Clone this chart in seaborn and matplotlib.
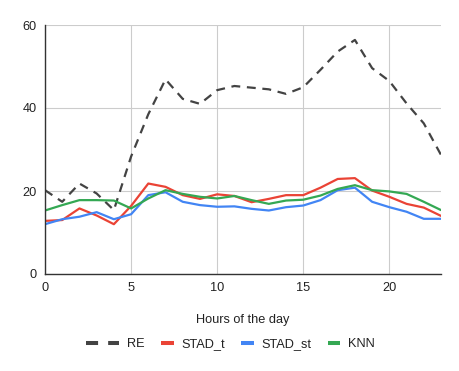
import pandas as pd
import matplotlib
matplotlib.use("Agg")
import matplotlib.pyplot as plt
from matplotlib.legend_handler import HandlerLine2D
import seaborn as sns

hours = list(range(24))
re_vals = [20.2, 17.4, 21.8, 19.4, 15.4, 28.3, 38.5, 46.9, 42.2, 41.0, 44.3, 45.3,
           44.9, 44.5, 43.4, 45.0, 49.2, 53.6, 56.4, 49.6, 46.5, 41.1, 36.3, 28.7]
stad_t = [12.8, 13.0, 15.8, 14.1, 12.0, 16.4, 21.8, 21.0, 19.0, 18.1, 19.2, 18.8,
          17.3, 18.1, 19.0, 19.0, 20.8, 22.9, 23.1, 20.1, 18.6, 16.9, 16.0, 14.0]
stad_st = [12.0, 13.2, 13.8, 14.9, 13.2, 14.4, 19.0, 19.7, 17.4, 16.6, 16.2, 16.3,
           15.7, 15.3, 16.1, 16.5, 17.8, 20.2, 20.8, 17.4, 16.1, 15.0, 13.3, 13.3]
knn = [15.3, 16.6, 17.8, 17.8, 17.7, 15.8, 18.2, 20.2, 19.3, 18.6, 18.2, 18.8,
       17.8, 16.9, 17.7, 17.9, 18.9, 20.5, 21.4, 20.2, 19.9, 19.3, 17.4, 15.4]

series = {"RE": re_vals, "STAD_t": stad_t, "STAD_st": stad_st, "KNN": knn}
colors = {"RE": "#434343", "STAD_t": "#ea4335", "STAD_st": "#4285f4", "KNN": "#34a853"}

df = pd.concat(
    [pd.DataFrame({"hour": hours, "value": v, "model": k}) for k, v in series.items()],
    ignore_index=True,
)


class WideHandler(HandlerLine2D):
    # dashed entry gets a wider handle box, like the google chart legend
    def legend_artist(self, legend, orig_handle, fontsize, handlebox):
        handlebox.width = 2.65 * fontsize
        return super().legend_artist(legend, orig_handle, fontsize, handlebox)


sns.set_style("white")
plt.rcParams["font.family"] = ["Liberation Sans", "DejaVu Sans"]

fig = plt.figure(figsize=(4.6, 3.71), dpi=100)
ax = fig.add_axes([45 / 460, 1 - 274 / 371, (441 - 45) / 460, (274 - 25) / 371])

sns.lineplot(data=df, x="hour", y="value", hue="model", palette=colors,
             style="model", dashes={"RE": (4, 3), "STAD_t": "", "STAD_st": "", "KNN": ""},
             linewidth=1.6, ax=ax, legend=False)

ax.set_xlim(0, 23)
ax.set_ylim(0, 60)
ax.set_xticks([0, 5, 10, 15, 20])
ax.set_yticks([0, 20, 40, 60])
ax.grid(True, color="#cccccc", linewidth=0.8)
ax.set_axisbelow(True)
for side in ["top", "right"]:
    ax.spines[side].set_visible(False)
for side in ["left", "bottom"]:
    ax.spines[side].set_color("#333333")
    ax.spines[side].set_linewidth(1.0)
ax.tick_params(axis="both", length=0, labelsize=9.2, colors="#222222", pad=6)
ax.set_xlabel("Hours of the day", fontsize=9.2, color="#222222", labelpad=14)
ax.set_ylabel("")

handles = []
for k in series:
    if k == "RE":
        h = plt.Line2D([], [], color=colors[k], linewidth=2.9,
                       linestyle=(0, (3.0, 2.5)), dash_capstyle="butt")
    else:
        h = plt.Line2D([], [], color=colors[k], linewidth=2.9, solid_capstyle="butt")
    handles.append(h)

fig.legend(handles, list(series), loc="center", bbox_to_anchor=(0.5, 1 - 344 / 371),
           ncol=4, frameon=False, fontsize=9.2, labelcolor="#222222",
           handlelength=0.95, columnspacing=1.3, handletextpad=0.6,
           handler_map={handles[0]: WideHandler()})

fig.savefig("out.png", dpi=100)
